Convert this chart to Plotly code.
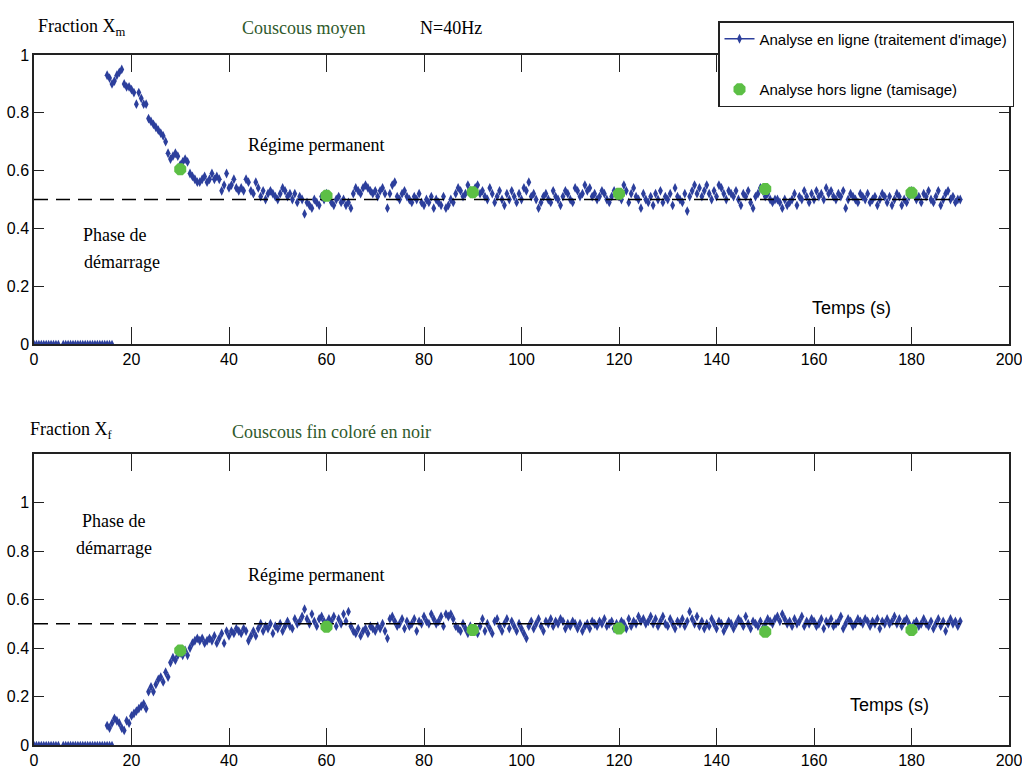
import plotly.graph_objects as go

# ---- data -------------------------------------------------------------
# sampling step of the online image analysis (s)
dt = 0.5

# start-up phase: the camera sees nothing, fraction read as 0
t_zero = [0.0, 0.5, 1.0, 1.5, 2.0, 2.5, 3.0, 3.5, 4.0, 4.5, 5.0,
          6.0, 6.5, 7.0, 7.5, 8.0, 8.5, 9.0, 9.5, 10.0, 10.5, 11.0,
          11.5, 12.0, 12.5, 13.0, 13.5, 14.0, 14.5, 15.0, 15.5, 16.0]
x_zero = [0.0] * len(t_zero)

# online fraction Xm (medium couscous), one value every 0.5 s from t = 15 s
xm_online = [
    0.93, 0.92, 0.90, 0.91, 0.93, 0.94, 0.95, 0.90, 0.89, 0.89,
    0.88, 0.87, 0.83, 0.87, 0.85, 0.83, 0.83, 0.78, 0.77, 0.76,
    0.75, 0.74, 0.73, 0.72, 0.70, 0.66, 0.64, 0.65, 0.66, 0.65,
    0.62, 0.63, 0.64, 0.63, 0.59, 0.58, 0.57, 0.56, 0.56, 0.57,
    0.58, 0.56, 0.57, 0.59, 0.57, 0.58, 0.57, 0.53, 0.55, 0.59,
    0.54, 0.55, 0.57, 0.54, 0.53, 0.54, 0.53, 0.57, 0.56, 0.53,
    0.52, 0.56, 0.54, 0.51, 0.53, 0.50, 0.52, 0.53, 0.52, 0.51,
    0.50, 0.52, 0.54, 0.53, 0.51, 0.52, 0.50, 0.52, 0.49, 0.51,
    0.50, 0.45, 0.49, 0.48, 0.47, 0.50, 0.49, 0.48, 0.51, 0.50,
    0.52, 0.51, 0.49, 0.48, 0.50, 0.51, 0.49, 0.50, 0.48, 0.49,
    0.47, 0.52, 0.54, 0.53, 0.52, 0.54, 0.55, 0.54, 0.53, 0.52,
    0.53, 0.51, 0.53, 0.54, 0.52, 0.47, 0.52, 0.55, 0.56, 0.51,
    0.50, 0.52, 0.53, 0.51, 0.50, 0.49, 0.51, 0.50, 0.52, 0.49,
    0.48, 0.50, 0.49, 0.51, 0.47, 0.50, 0.49, 0.48, 0.51, 0.47,
    0.48, 0.50, 0.49, 0.52, 0.54, 0.53, 0.51, 0.52, 0.55, 0.53,
    0.52, 0.54, 0.55, 0.52, 0.53, 0.51, 0.50, 0.54, 0.52, 0.49,
    0.51, 0.53, 0.50, 0.48, 0.52, 0.50, 0.53, 0.51, 0.49, 0.52,
    0.50, 0.54, 0.53, 0.56, 0.51, 0.52, 0.50, 0.47, 0.49, 0.51,
    0.52, 0.50, 0.49, 0.53, 0.51, 0.50, 0.48, 0.51, 0.53, 0.52,
    0.50, 0.49, 0.54, 0.53, 0.51, 0.52, 0.55, 0.53, 0.54, 0.51,
    0.52, 0.50, 0.51, 0.53, 0.52, 0.50, 0.49, 0.51, 0.53, 0.52,
    0.51, 0.50, 0.55, 0.53, 0.49, 0.52, 0.54, 0.51, 0.50, 0.47,
    0.52, 0.50, 0.49, 0.51, 0.48, 0.52, 0.50, 0.53, 0.49, 0.51,
    0.50, 0.52, 0.48, 0.54, 0.51, 0.50, 0.49, 0.52, 0.46, 0.51,
    0.53, 0.55, 0.52, 0.54, 0.51, 0.53, 0.55, 0.52, 0.50, 0.53,
    0.51, 0.55, 0.54, 0.52, 0.50, 0.53, 0.52, 0.51, 0.53, 0.50,
    0.48, 0.52, 0.51, 0.53, 0.49, 0.47, 0.51, 0.52, 0.54, 0.53,
    0.51, 0.52, 0.50, 0.49, 0.50, 0.50, 0.49, 0.47, 0.50, 0.48,
    0.49, 0.50, 0.52, 0.48, 0.51, 0.50, 0.53, 0.51, 0.49, 0.52,
    0.50, 0.53, 0.51, 0.52, 0.50, 0.54, 0.52, 0.53, 0.51, 0.50,
    0.52, 0.51, 0.53, 0.47, 0.50, 0.52, 0.51, 0.50, 0.49, 0.52,
    0.51, 0.50, 0.52, 0.49, 0.50, 0.51, 0.48, 0.50, 0.52, 0.51,
    0.49, 0.51, 0.48, 0.50, 0.52, 0.51, 0.48, 0.50, 0.49, 0.51,
    0.53, 0.52, 0.50, 0.51, 0.49, 0.52, 0.51, 0.53, 0.50, 0.49,
    0.51, 0.53, 0.48, 0.50, 0.52, 0.53, 0.50, 0.51, 0.49, 0.50,
    0.50,
]

# online fraction Xf (fine couscous dyed black), same time base
xf_online = [
    0.08, 0.07, 0.09, 0.11, 0.10, 0.09, 0.07, 0.06, 0.10, 0.09,
    0.12, 0.13, 0.14, 0.15, 0.16, 0.17, 0.15, 0.22, 0.24, 0.22,
    0.25, 0.27, 0.28, 0.26, 0.30, 0.28, 0.34, 0.36, 0.35, 0.37,
    0.38, 0.37, 0.39, 0.37, 0.40, 0.42, 0.43, 0.44, 0.43, 0.44,
    0.42, 0.43, 0.44, 0.43, 0.45, 0.42, 0.44, 0.46, 0.42, 0.47,
    0.45, 0.47, 0.46, 0.48, 0.47, 0.46, 0.48, 0.47, 0.43, 0.45,
    0.47, 0.45, 0.48, 0.50, 0.47, 0.49, 0.48, 0.50, 0.46, 0.49,
    0.48, 0.50, 0.47, 0.49, 0.51, 0.49, 0.48, 0.52, 0.50, 0.51,
    0.53, 0.56, 0.52, 0.50, 0.54, 0.51, 0.49, 0.52, 0.53, 0.51,
    0.50, 0.52, 0.51, 0.53, 0.49, 0.52, 0.50, 0.54, 0.51, 0.55,
    0.49, 0.47, 0.46, 0.48, 0.45, 0.47, 0.48, 0.46, 0.49, 0.48,
    0.47, 0.49, 0.48, 0.50, 0.47, 0.44, 0.52, 0.53, 0.51, 0.49,
    0.50, 0.52, 0.48, 0.51, 0.49, 0.50, 0.52, 0.47, 0.51, 0.50,
    0.53, 0.51, 0.50, 0.54, 0.52, 0.50, 0.51, 0.53, 0.49, 0.54,
    0.53, 0.54, 0.52, 0.49, 0.48, 0.47, 0.50, 0.48, 0.46, 0.49,
    0.47, 0.48, 0.46, 0.49, 0.52, 0.47, 0.50, 0.48, 0.46, 0.51,
    0.52, 0.49, 0.47, 0.50, 0.52, 0.48, 0.51, 0.49, 0.47, 0.50,
    0.48, 0.46, 0.44, 0.49, 0.51, 0.48, 0.50, 0.52, 0.49, 0.47,
    0.51, 0.50, 0.52, 0.49, 0.51, 0.50, 0.52, 0.51, 0.48, 0.50,
    0.49, 0.51, 0.50, 0.48, 0.50, 0.47, 0.49, 0.50, 0.48, 0.51,
    0.50, 0.49, 0.51, 0.50, 0.52, 0.49, 0.50, 0.51, 0.48, 0.50,
    0.49, 0.51, 0.50, 0.48, 0.52, 0.49, 0.51, 0.50, 0.53, 0.51,
    0.52, 0.50, 0.51, 0.53, 0.50, 0.52, 0.49, 0.51, 0.53, 0.50,
    0.49, 0.52, 0.50, 0.48, 0.51, 0.50, 0.52, 0.49, 0.51, 0.55,
    0.52, 0.50, 0.53, 0.49, 0.51, 0.48, 0.50, 0.49, 0.52, 0.50,
    0.48, 0.51, 0.50, 0.47, 0.49, 0.51, 0.50, 0.48, 0.50, 0.52,
    0.51, 0.49, 0.53, 0.50, 0.48, 0.51, 0.50, 0.49, 0.51, 0.48,
    0.50, 0.52, 0.51, 0.50, 0.52, 0.53, 0.51, 0.54, 0.52, 0.50,
    0.51, 0.49, 0.52, 0.50, 0.51, 0.53, 0.49, 0.51, 0.50, 0.52,
    0.51, 0.49, 0.50, 0.52, 0.48, 0.51, 0.50, 0.52, 0.49, 0.50,
    0.51, 0.53, 0.48, 0.50, 0.52, 0.51, 0.49, 0.50, 0.52, 0.51,
    0.50, 0.52, 0.51, 0.49, 0.51, 0.50, 0.52, 0.48, 0.51, 0.50,
    0.52, 0.50, 0.51, 0.53, 0.50, 0.52, 0.49, 0.51, 0.52, 0.50,
    0.48, 0.50, 0.51, 0.49, 0.50, 0.52, 0.50, 0.49, 0.51, 0.48,
    0.50, 0.52, 0.49, 0.51, 0.47, 0.50, 0.52, 0.50, 0.51, 0.49,
    0.51,
]
t_start = 15.0
t_online = [t_start + i * dt for i in range(len(xm_online))]

# offline sieving samples
t_sieve = [30, 60, 90, 120, 150, 180]
xm_sieve = [0.605, 0.513, 0.525, 0.52, 0.536, 0.523]
xf_sieve = [0.39, 0.488, 0.474, 0.48, 0.467, 0.474]

# theoretical steady-state fraction
target = 0.5
t_target = [0, 190]

x_ticks = [0, 20, 40, 60, 80, 100, 120, 140, 160, 180, 200]
y_ticks = [0, 0.2, 0.4, 0.6, 0.8, 1]
y_labels = ["0", "0.2", "0.4", "0.6", "0.8", "1"]

# ---- styling ----------------------------------------------------------
BLUE = "#2c3f9c"
GREEN = "#5cbf45"
DKGREEN = "#2f5a2c"
SANS = "Liberation Sans Narrow, Liberation Sans, Arial"
SERIF = "Liberation Serif, Times New Roman, serif"

W, H = 1022, 774
ML, MR = 34, 13
PW = W - ML - MR


def px_x(p):
    return (p - ML) / PW


def px_y(p):
    return 1 - p / H


fig = go.Figure()

panels = [
    ("x", "y", xm_online, xm_sieve),
    ("x2", "y2", xf_online, xf_sieve),
]
for xa, ya, online, sieve in panels:
    fig.add_trace(go.Scatter(
        x=t_zero, y=x_zero, xaxis=xa, yaxis=ya, mode="markers",
        marker=dict(symbol="diamond-tall", size=6, color=BLUE),
        showlegend=False, hoverinfo="skip"))
    fig.add_trace(go.Scatter(
        x=t_online, y=online, xaxis=xa, yaxis=ya, mode="markers",
        marker=dict(symbol="diamond-tall", size=7, color=BLUE),
        showlegend=False))
    fig.add_trace(go.Scatter(
        x=t_target, y=[target, target], xaxis=xa, yaxis=ya, mode="lines",
        line=dict(color="black", width=1.5, dash="14px,8px"),
        showlegend=False, hoverinfo="skip"))
    fig.add_trace(go.Scatter(
        x=t_sieve, y=sieve, xaxis=xa, yaxis=ya, mode="markers",
        marker=dict(symbol="octagon", size=13, color=GREEN),
        showlegend=False))

# legend entries
fig.add_trace(go.Scatter(
    x=[None], y=[None], mode="lines+markers",
    name="Analyse en ligne (traitement d'image)", legendgroup="a",
    line=dict(color=BLUE, width=1.5),
    marker=dict(symbol="diamond-tall", size=7, color=BLUE)))
fig.add_trace(go.Scatter(
    x=[None], y=[None], mode="markers",
    name="Analyse hors ligne (tamisage)", legendgroup="b",
    marker=dict(symbol="octagon", size=13, color=GREEN)))

axis_common = dict(
    showline=True, linecolor="#222", linewidth=1.5, mirror="ticks",
    ticks="inside", tickcolor="#222", tickwidth=1.2,
    showgrid=False, zeroline=False, ticklabeloverflow="allow",
    tickfont=dict(family=SANS, size=16, color="black"),
)
fig.update_layout(
    width=W, height=H,
    margin=dict(l=ML, r=MR, t=0, b=0, autoexpand=False),
    paper_bgcolor="white", plot_bgcolor="white",
    xaxis=dict(domain=[0, 1], range=[0, 200], tickvals=x_ticks,
               ticklen=17, anchor="y", **axis_common),
    yaxis=dict(domain=[px_y(344), px_y(55)], range=[0, 1],
               tickvals=y_ticks, ticktext=y_labels, ticklen=10,
               anchor="x", **axis_common),
    xaxis2=dict(domain=[0, 1], range=[0, 200], tickvals=x_ticks,
                ticklen=17, anchor="y2", **axis_common),
    yaxis2=dict(domain=[px_y(745), px_y(454)], range=[0, 1.2],
                tickvals=y_ticks, ticktext=y_labels, ticklen=10,
                anchor="x2", **axis_common),
    legend=dict(
        x=px_x(718), y=px_y(21), xanchor="left", yanchor="top",
        bgcolor="white", bordercolor="#222", borderwidth=1.5,
        font=dict(family=SANS, size=15, color="black"),
        traceorder="grouped", tracegroupgap=28,
    ),
)

notes = [
    # (text, x, y, xref, yref, family, size, color, xanchor)
    ("Fraction X<sub>m</sub>", px_x(36), px_y(28), "paper", "paper", SERIF, 18, "black", "left"),
    ("Couscous moyen", px_x(240), px_y(28), "paper", "paper", SERIF, 18, DKGREEN, "left"),
    ("N=40Hz", px_x(418), px_y(28), "paper", "paper", SERIF, 18, "black", "left"),
    ("Régime permanent", 57.9, 0.689, "x", "y", SERIF, 18, "black", "center"),
    ("Phase de", 16.6, 0.377, "x", "y", SERIF, 18, "black", "center"),
    ("démarrage", 18.0, 0.284, "x", "y", SERIF, 18, "black", "center"),
    ("Temps (s)", 167.7, 0.125, "x", "y", SANS, 18, "black", "center"),
    ("Fraction X<sub>f</sub>", px_x(28), px_y(430), "paper", "paper", SERIF, 18, "black", "left"),
    ("Couscous fin coloré en noir", px_x(230), px_y(432), "paper", "paper", SERIF, 18, DKGREEN, "left"),
    ("Phase de", 16.4, 0.924, "x2", "y2", SERIF, 18, "black", "center"),
    ("démarrage", 16.4, 0.812, "x2", "y2", SERIF, 18, "black", "center"),
    ("Régime permanent", 57.9, 0.70, "x2", "y2", SERIF, 18, "black", "center"),
    ("Temps (s)", 175.5, 0.165, "x2", "y2", SANS, 18, "black", "center"),
]
for text, x, y, xr, yr, fam, size, col, xa in notes:
    fig.add_annotation(text=text, x=x, y=y, xref=xr, yref=yr,
                       xanchor=xa, yanchor="middle", showarrow=False,
                       font=dict(family=fam, size=size, color=col))

fig.write_html("out.html")
